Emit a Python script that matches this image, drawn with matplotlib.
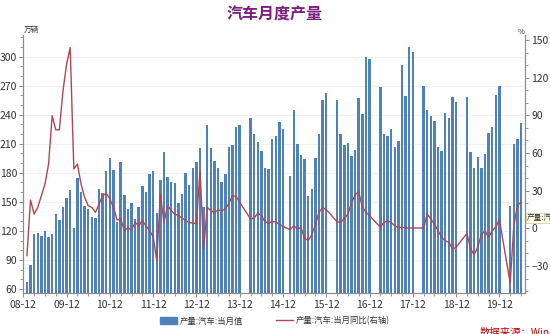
import numpy as np
import matplotlib
matplotlib.use('Agg')
import matplotlib.pyplot as plt
from matplotlib.patches import Patch
from matplotlib.lines import Line2D
from matplotlib.ticker import MultipleLocator

plt.rcParams['font.family'] = ['Noto Sans CJK SC', 'DejaVu Sans']

nan = np.nan

# 月度产量（万辆），2009-01 ~ 2020-06，缺失月份为 nan
prod_2009 = [67.5, 85, 117, 117.5, 114.5, 120, 113.5, 116.5, 137, 131, 144.5, 153.5]
prod_2010 = [162, 122.5, 175, 160, 146, 143, 134, 133, 163, 159, 182, 195]
prod_2011 = [183, 129, 191.5, 157, 142.5, 148.5, 132, 145, 166.5, 160, 179, 182]
prod_2012 = [138.5, 173, 202, 176, 171, 169.5, 149, 158.5, 180, 167.5, 184.5, 191.5]
prod_2013 = [205.5, 144.5, 229, 206, 192.4, 185, 170, 179, 207, 208.3, 227.6, 229.7]
prod_2014 = [nan, nan, 236.3, 220, 211.8, 202.8, 185.4, 184.2, 214.7, 218.5, 232.1, 225.2]
prod_2015 = [nan, 176.9, 244.9, 209.4, 198, 194.5, 155.9, 162.8, 194.9, 219.7, 255.2, 262.8]
prod_2016 = [nan, nan, 255.2, 219.7, 208.3, 210.4, 197.3, 203.5, 257, 240.4, 299.3, 297.2]
prod_2017 = [nan, nan, 269, 220, 218, 224.9, 206.9, 212.8, 291.4, 259.3, 310.3, 304.9]
prod_2018 = [nan, nan, 269.7, 244.9, 238.7, 233.5, 206.2, 202.8, 242.1, 236.9, 258, 252.8]
prod_2019 = [nan, nan, 258.6, 201.7, 184.5, 195.9, 184.5, 199.3, 220.7, 227.6, 260.4, 270]
prod_2020 = [nan, nan, 146, 210, 214.5, 231]

# 当月同比（%）
yoy_2009 = [-21.7, 22.6, 11.4, 16.7, 26, 35.3, 51.2, 89.7, 78.5, 78.5, 109.6, 130.8]
yoy_2010 = [144, 47.3, 51.2, 35.3, 24.7, 18.1, 16.7, 12.7, 19.4, 26, 27.9, 23.4]
yoy_2011 = [16.7, 6.7, 7.5, -1.8, 0.3, -1.3, 4.8, 2.1, 6.1, 2.1, -1.8, -6.6]
yoy_2012 = [-25.7, 27.3, 4.8, 18.1, 14.1, 11.4, 10.1, 8.3, 6.1, 4.8, 4, 4]
yoy_2013 = [46.5, -16.4, 16.7, 14.1, 12.7, 14.6, 14.1, 15.4, 19.9, 26, 25.5, 20.7]
yoy_2014 = [nan, nan, 7.5, 8.3, 12, 10.1, 5.3, 4, 5.5, 5, 3.4, 1.5]
yoy_2015 = [nan, -1, 2, -0.5, 0.5, -8, -9.5, -5, 3, 13, 16.5, 15]
yoy_2016 = [nan, nan, 5.3, 4.8, 8, 11.4, 20, 27, 29, 17, 13, 10]
yoy_2017 = [nan, nan, 1, 4.8, 6, 4.8, 2, 0.8, 0.8, 0.3, 0.3, 0.3]
yoy_2018 = [nan, nan, 0.3, 11.4, 7.4, 3.4, -1.9, -7, -10, -11, -16.4, -15]
yoy_2019 = [nan, nan, -4, -16, -21, -15, -5, -2, -7, -2, 1, 7]
yoy_2020 = [nan, nan, -43.5, 2, 18, 21]

tick_labels = ['08-12', '09-12', '10-12', '11-12', '12-12', '13-12',
               '14-12', '15-12', '16-12', '17-12', '18-12', '19-12']

prod = np.array(prod_2009 + prod_2010 + prod_2011 + prod_2012 + prod_2013 + prod_2014 +
                prod_2015 + prod_2016 + prod_2017 + prod_2018 + prod_2019 + prod_2020)
yoy = np.array(yoy_2009 + yoy_2010 + yoy_2011 + yoy_2012 + yoy_2013 + yoy_2014 +
               yoy_2015 + yoy_2016 + yoy_2017 + yoy_2018 + yoy_2019 + yoy_2020)
x = np.arange(1, len(prod) + 1)  # 月份序号，0 = 2008-12

fig = plt.figure(figsize=(5.5, 3.34), dpi=100)
ax = fig.add_axes([0.0424, 0.1219, 0.9121, 0.7733])
ax2 = ax.twinx()

bar_color = '#4F81BD'
line_color = '#B04652'
axis_color = '#8C8C8C'

ok = ~np.isnan(prod)
ax.bar(x[ok], prod[ok], width=0.68, color=bar_color, zorder=2)
ok2 = ~np.isnan(yoy)
ax2.plot(x[ok2], yoy[ok2], color=line_color, lw=1.0)

ax.set_xlim(0, 139.1)
ax.set_ylim(55.5, 322.4)
ax2.set_ylim(-51.7, 154)

ax.set_yticks(np.arange(60, 301, 30))
ax.yaxis.set_minor_locator(MultipleLocator(10))
ax2.set_yticks(np.arange(-30, 151, 30))
ax2.yaxis.set_minor_locator(MultipleLocator(10))
ax.set_xticks(np.arange(0, 133, 12))
ax.set_xticklabels(tick_labels)
ax.xaxis.set_minor_locator(MultipleLocator(3))

ax.grid(axis='y', color='#F0F0F0', lw=0.8, zorder=0)
ax.set_axisbelow(True)

for a in (ax, ax2):
    a.spines['top'].set_visible(False)
    for s in ('left', 'right', 'bottom'):
        a.spines[s].set_color(axis_color)
        a.spines[s].set_linewidth(0.8)
    a.tick_params(which='major', length=3, width=0.7, color=axis_color,
                  labelsize=7.5, labelcolor='#333333', pad=1.5)
    a.tick_params(which='minor', length=2, width=0.6, color=axis_color)
ax.tick_params(axis='x', pad=2)

fig.text(0.5, 1 - 15 / 334, '汽车月度产量', ha='center', va='center',
         fontsize=11.5, fontweight='bold', color='#7B1F80')
fig.text(24 / 550, 1 - 34 / 334, '万辆', ha='left', va='bottom', fontsize=5.5, color='#333333')
fig.text(518 / 550, 1 - 36 / 334, '%', ha='left', va='bottom', fontsize=5.5, color='#333333')

# 右侧被截断的数据标签
fig.text(527 / 550, 1 - 218 / 334, '产量:汽车:当月同比', ha='left', va='center', fontsize=5.5,
         color='#333333', bbox=dict(boxstyle='square,pad=0.12', fc='#FFFFE8', ec='#C8C8A0', lw=0.5))

handles = [Patch(color=bar_color), Line2D([0], [0], color=line_color, lw=1.0)]
fig.legend(handles, ['产量:汽车:当月值', '产量:汽车:当月同比(右轴)'], loc='center',
           bbox_to_anchor=(0.5, 1 - 321 / 334), ncol=2, frameon=False, fontsize=6,
           handlelength=2.0, handleheight=1.0, columnspacing=4.0, handletextpad=0.3,
           labelcolor='#333333')

fig.text(480 / 550, 1 - 328 / 334, '数据来源：Wind', ha='left', va='top', fontsize=7.5,
         color='#C00000')

fig.savefig('out.png', dpi=100)
